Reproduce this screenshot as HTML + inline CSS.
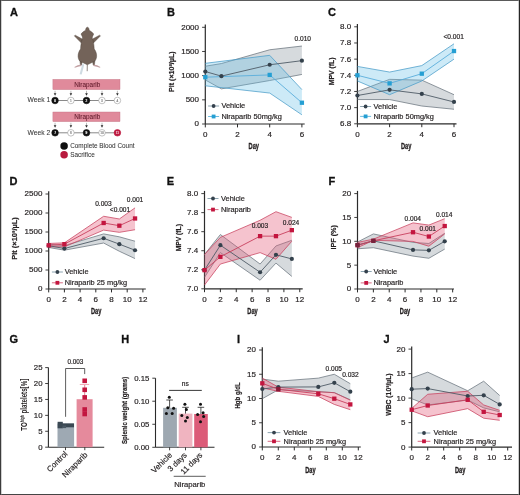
<!DOCTYPE html><html><head><meta charset="utf-8"><style>html,body{margin:0;padding:0;background:#fff;overflow:hidden}svg{display:block;will-change:transform}</style></head><body>
<svg width="520" height="495" viewBox="0 0 520 495" font-family='"Liberation Sans", sans-serif'>
<rect x="0" y="0" width="520" height="495" fill="#fff"/>
<text x="9.9" y="16.3" font-size="11.0" text-anchor="start" font-weight="bold" fill="#111" stroke="#111" stroke-width="0.3" >A</text>
<text x="167.1" y="16.3" font-size="11.0" text-anchor="start" font-weight="bold" fill="#111" stroke="#111" stroke-width="0.3" >B</text>
<text x="327.9" y="16.3" font-size="11.0" text-anchor="start" font-weight="bold" fill="#111" stroke="#111" stroke-width="0.3" >C</text>
<text x="9.5" y="184.5" font-size="11.0" text-anchor="start" font-weight="bold" fill="#111" stroke="#111" stroke-width="0.3" >D</text>
<text x="166.7" y="184.5" font-size="11.0" text-anchor="start" font-weight="bold" fill="#111" stroke="#111" stroke-width="0.3" >E</text>
<text x="328.5" y="184.5" font-size="11.0" text-anchor="start" font-weight="bold" fill="#111" stroke="#111" stroke-width="0.3" >F</text>
<text x="9.5" y="342.8" font-size="11.0" text-anchor="start" font-weight="bold" fill="#111" stroke="#111" stroke-width="0.3" >G</text>
<text x="121.3" y="342.8" font-size="11.0" text-anchor="start" font-weight="bold" fill="#111" stroke="#111" stroke-width="0.3" >H</text>
<text x="237.1" y="342.8" font-size="11.0" text-anchor="start" font-weight="bold" fill="#111" stroke="#111" stroke-width="0.3" >I</text>
<text x="383.5" y="342.8" font-size="11.0" text-anchor="start" font-weight="bold" fill="#111" stroke="#111" stroke-width="0.3" >J</text>
<line x1="205.3" y1="24.6" x2="205.3" y2="124" stroke="#2b2b2b" stroke-width="1.2"/>
<line x1="205.3" y1="124" x2="304.7" y2="124" stroke="#2b2b2b" stroke-width="1.2"/>
<line x1="202.1" y1="124" x2="205.3" y2="124" stroke="#2b2b2b" stroke-width="0.9"/>
<text x="199" y="126.48" font-size="8.0" text-anchor="end" font-weight="normal" fill="#231f20" stroke="#231f20" stroke-width="0.18" >0</text>
<line x1="202.1" y1="99.83" x2="205.3" y2="99.83" stroke="#2b2b2b" stroke-width="0.9"/>
<text x="199" y="102.3" font-size="8.0" text-anchor="end" font-weight="normal" fill="#231f20" stroke="#231f20" stroke-width="0.18" >500</text>
<line x1="202.1" y1="75.65" x2="205.3" y2="75.65" stroke="#2b2b2b" stroke-width="0.9"/>
<text x="199" y="78.13" font-size="8.0" text-anchor="end" font-weight="normal" fill="#231f20" stroke="#231f20" stroke-width="0.18" >1000</text>
<line x1="202.1" y1="51.47" x2="205.3" y2="51.47" stroke="#2b2b2b" stroke-width="0.9"/>
<text x="199" y="53.95" font-size="8.0" text-anchor="end" font-weight="normal" fill="#231f20" stroke="#231f20" stroke-width="0.18" >1500</text>
<line x1="202.1" y1="27.3" x2="205.3" y2="27.3" stroke="#2b2b2b" stroke-width="0.9"/>
<text x="199" y="29.78" font-size="8.0" text-anchor="end" font-weight="normal" fill="#231f20" stroke="#231f20" stroke-width="0.18" >2000</text>
<line x1="205.3" y1="124" x2="205.3" y2="127.4" stroke="#2b2b2b" stroke-width="1.0"/>
<text x="205.3" y="136.7" font-size="8.0" text-anchor="middle" font-weight="normal" fill="#231f20" stroke="#231f20" stroke-width="0.18" >0</text>
<line x1="237.5" y1="124" x2="237.5" y2="127.4" stroke="#2b2b2b" stroke-width="1.0"/>
<text x="237.5" y="136.7" font-size="8.0" text-anchor="middle" font-weight="normal" fill="#231f20" stroke="#231f20" stroke-width="0.18" >2</text>
<line x1="269.7" y1="124" x2="269.7" y2="127.4" stroke="#2b2b2b" stroke-width="1.0"/>
<text x="269.7" y="136.7" font-size="8.0" text-anchor="middle" font-weight="normal" fill="#231f20" stroke="#231f20" stroke-width="0.18" >4</text>
<line x1="301.9" y1="124" x2="301.9" y2="127.4" stroke="#2b2b2b" stroke-width="1.0"/>
<text x="301.9" y="136.7" font-size="8.0" text-anchor="middle" font-weight="normal" fill="#231f20" stroke="#231f20" stroke-width="0.18" >6</text>
<polygon points="205.3,66.22 221.4,63.56 269.7,49.78 301.9,46.06 301.9,74.44 269.7,80.53 221.4,88.85 205.3,79.95" fill="rgba(105,118,130,0.27)" stroke="none" stroke-width="0" stroke-linejoin="round"/>
<polyline points="205.3,66.22 221.4,63.56 269.7,49.78 301.9,46.06" fill="none" stroke="#6a747e" stroke-width="0.75" stroke-linejoin="round"/>
<polyline points="205.3,79.95 221.4,88.85 269.7,80.53 301.9,74.44" fill="none" stroke="#6a747e" stroke-width="0.75" stroke-linejoin="round"/>
<polygon points="205.3,63.32 269.7,55.34 301.9,89.57 301.9,114.81 269.7,93.06 205.3,85.8" fill="rgba(100,190,230,0.32)" stroke="none" stroke-width="0" stroke-linejoin="round"/>
<polyline points="205.3,63.32 269.7,55.34 301.9,89.57" fill="none" stroke="#4a9cc8" stroke-width="0.75" stroke-linejoin="round"/>
<polyline points="205.3,85.8 269.7,93.06 301.9,114.81" fill="none" stroke="#4a9cc8" stroke-width="0.75" stroke-linejoin="round"/>
<polyline points="205.3,71.54 221.4,76.13 269.7,64.77 301.9,60.66" fill="none" stroke="#4f5b66" stroke-width="0.9" stroke-linejoin="round"/>
<polyline points="205.3,77.2 269.7,74.92 301.9,102.73" fill="none" stroke="#5aaedb" stroke-width="0.9" stroke-linejoin="round"/>
<circle cx="205.3" cy="71.54" r="2.1" fill="#34414c"/>
<circle cx="221.4" cy="76.13" r="2.1" fill="#34414c"/>
<circle cx="269.7" cy="64.77" r="2.1" fill="#34414c"/>
<circle cx="301.9" cy="60.66" r="2.1" fill="#34414c"/>
<rect x="203.15" y="75.05" width="4.3" height="4.3" fill="#259fd3"/>
<rect x="267.55" y="72.77" width="4.3" height="4.3" fill="#259fd3"/>
<rect x="299.75" y="100.58" width="4.3" height="4.3" fill="#259fd3"/>
<text x="302.8" y="40.8" font-size="6.6" text-anchor="middle" font-weight="normal" fill="#231f20" stroke="#231f20" stroke-width="0.18" >0.010</text>
<line x1="208.1" y1="106" x2="219.1" y2="106" stroke="#7f9aa8" stroke-width="0.9"/>
<circle cx="213.6" cy="106" r="1.9" fill="#34414c"/>
<text x="221.4" y="108.36" font-size="7.4" text-anchor="start" font-weight="normal" fill="#231f20" stroke="#231f20" stroke-width="0.18" >Vehicle</text>
<line x1="208.1" y1="116.5" x2="219.1" y2="116.5" stroke="#5bb4dd" stroke-width="0.9"/>
<rect x="211.7" y="114.6" width="3.8" height="3.8" fill="#259fd3"/>
<text x="221.4" y="118.86" font-size="7.4" text-anchor="start" font-weight="normal" fill="#231f20" stroke="#231f20" stroke-width="0.18" >Niraparib 50mg/kg</text>
<text transform="translate(172,71.7) rotate(-90) scale(0.917,1)" x="0" y="2.07" font-size="7.8" text-anchor="middle" font-weight="bold" fill="#231f20" stroke="#231f20" stroke-width="0.22">Plt (×10³/µL)</text>
<text transform="translate(253.8,149) scale(0.66,1)" x="0" y="0" font-size="8.6" font-weight="bold" text-anchor="middle" fill="#231f20" stroke="#231f20" stroke-width="0.32">Day</text>
<line x1="357.4" y1="24.1" x2="357.4" y2="123.8" stroke="#2b2b2b" stroke-width="1.2"/>
<line x1="357.4" y1="123.8" x2="456.5" y2="123.8" stroke="#2b2b2b" stroke-width="1.2"/>
<line x1="354.2" y1="123.8" x2="357.4" y2="123.8" stroke="#2b2b2b" stroke-width="0.9"/>
<text x="351.1" y="126.28" font-size="8.0" text-anchor="end" font-weight="normal" fill="#231f20" stroke="#231f20" stroke-width="0.18" >6.8</text>
<line x1="354.2" y1="107.63" x2="357.4" y2="107.63" stroke="#2b2b2b" stroke-width="0.9"/>
<text x="351.1" y="110.11" font-size="8.0" text-anchor="end" font-weight="normal" fill="#231f20" stroke="#231f20" stroke-width="0.18" >7.0</text>
<line x1="354.2" y1="91.47" x2="357.4" y2="91.47" stroke="#2b2b2b" stroke-width="0.9"/>
<text x="351.1" y="93.95" font-size="8.0" text-anchor="end" font-weight="normal" fill="#231f20" stroke="#231f20" stroke-width="0.18" >7.2</text>
<line x1="354.2" y1="75.3" x2="357.4" y2="75.3" stroke="#2b2b2b" stroke-width="0.9"/>
<text x="351.1" y="77.78" font-size="8.0" text-anchor="end" font-weight="normal" fill="#231f20" stroke="#231f20" stroke-width="0.18" >7.4</text>
<line x1="354.2" y1="59.13" x2="357.4" y2="59.13" stroke="#2b2b2b" stroke-width="0.9"/>
<text x="351.1" y="61.61" font-size="8.0" text-anchor="end" font-weight="normal" fill="#231f20" stroke="#231f20" stroke-width="0.18" >7.6</text>
<line x1="354.2" y1="42.97" x2="357.4" y2="42.97" stroke="#2b2b2b" stroke-width="0.9"/>
<text x="351.1" y="45.45" font-size="8.0" text-anchor="end" font-weight="normal" fill="#231f20" stroke="#231f20" stroke-width="0.18" >7.8</text>
<line x1="354.2" y1="26.8" x2="357.4" y2="26.8" stroke="#2b2b2b" stroke-width="0.9"/>
<text x="351.1" y="29.28" font-size="8.0" text-anchor="end" font-weight="normal" fill="#231f20" stroke="#231f20" stroke-width="0.18" >8.0</text>
<line x1="357.4" y1="123.8" x2="357.4" y2="127.2" stroke="#2b2b2b" stroke-width="1.0"/>
<text x="357.4" y="136.5" font-size="8.0" text-anchor="middle" font-weight="normal" fill="#231f20" stroke="#231f20" stroke-width="0.18" >0</text>
<line x1="389.6" y1="123.8" x2="389.6" y2="127.2" stroke="#2b2b2b" stroke-width="1.0"/>
<text x="389.6" y="136.5" font-size="8.0" text-anchor="middle" font-weight="normal" fill="#231f20" stroke="#231f20" stroke-width="0.18" >2</text>
<line x1="421.8" y1="123.8" x2="421.8" y2="127.2" stroke="#2b2b2b" stroke-width="1.0"/>
<text x="421.8" y="136.5" font-size="8.0" text-anchor="middle" font-weight="normal" fill="#231f20" stroke="#231f20" stroke-width="0.18" >4</text>
<line x1="454" y1="123.8" x2="454" y2="127.2" stroke="#2b2b2b" stroke-width="1.0"/>
<text x="454" y="136.5" font-size="8.0" text-anchor="middle" font-weight="normal" fill="#231f20" stroke="#231f20" stroke-width="0.18" >6</text>
<polygon points="357.4,91.47 389.6,79.34 421.8,80.15 454,94.7 454,109.25 421.8,106.02 389.6,99.55 357.4,99.55" fill="rgba(105,118,130,0.27)" stroke="none" stroke-width="0" stroke-linejoin="round"/>
<polyline points="357.4,91.47 389.6,79.34 421.8,80.15 454,94.7" fill="none" stroke="#6a747e" stroke-width="0.75" stroke-linejoin="round"/>
<polyline points="357.4,99.55 389.6,99.55 421.8,106.02 454,109.25" fill="none" stroke="#6a747e" stroke-width="0.75" stroke-linejoin="round"/>
<polygon points="357.4,66.41 389.6,72.07 421.8,65.6 454,43.77 454,59.13 421.8,80.96 389.6,94.7 357.4,80.96" fill="rgba(100,190,230,0.32)" stroke="none" stroke-width="0" stroke-linejoin="round"/>
<polyline points="357.4,66.41 389.6,72.07 421.8,65.6 454,43.77" fill="none" stroke="#4a9cc8" stroke-width="0.75" stroke-linejoin="round"/>
<polyline points="357.4,80.96 389.6,94.7 421.8,80.96 454,59.13" fill="none" stroke="#4a9cc8" stroke-width="0.75" stroke-linejoin="round"/>
<polyline points="357.4,95.51 389.6,89.85 421.8,93.89 454,101.97" fill="none" stroke="#4f5b66" stroke-width="0.9" stroke-linejoin="round"/>
<polyline points="357.4,75.3 389.6,83.38 421.8,73.68 454,51.05" fill="none" stroke="#5aaedb" stroke-width="0.9" stroke-linejoin="round"/>
<circle cx="357.4" cy="95.51" r="2.1" fill="#34414c"/>
<circle cx="389.6" cy="89.85" r="2.1" fill="#34414c"/>
<circle cx="421.8" cy="93.89" r="2.1" fill="#34414c"/>
<circle cx="454" cy="101.97" r="2.1" fill="#34414c"/>
<rect x="355.25" y="73.15" width="4.3" height="4.3" fill="#259fd3"/>
<rect x="387.45" y="81.23" width="4.3" height="4.3" fill="#259fd3"/>
<rect x="419.65" y="71.53" width="4.3" height="4.3" fill="#259fd3"/>
<rect x="451.85" y="48.9" width="4.3" height="4.3" fill="#259fd3"/>
<text x="453.7" y="38.8" font-size="6.6" text-anchor="middle" font-weight="normal" fill="#231f20" stroke="#231f20" stroke-width="0.18" >&lt;0.001</text>
<line x1="360.1" y1="106.5" x2="371.1" y2="106.5" stroke="#7f9aa8" stroke-width="0.9"/>
<circle cx="365.6" cy="106.5" r="1.9" fill="#34414c"/>
<text x="373.5" y="108.86" font-size="7.4" text-anchor="start" font-weight="normal" fill="#231f20" stroke="#231f20" stroke-width="0.18" >Vehicle</text>
<line x1="360.1" y1="116.4" x2="371.1" y2="116.4" stroke="#5bb4dd" stroke-width="0.9"/>
<rect x="363.7" y="114.5" width="3.8" height="3.8" fill="#259fd3"/>
<text x="373.5" y="118.76" font-size="7.4" text-anchor="start" font-weight="normal" fill="#231f20" stroke="#231f20" stroke-width="0.18" >Niraparib 50mg/kg</text>
<text transform="translate(331.9,71.35) rotate(-90) scale(0.884,1)" x="0" y="2.07" font-size="7.8" text-anchor="middle" font-weight="bold" fill="#231f20" stroke="#231f20" stroke-width="0.22">MPV (fL)</text>
<text transform="translate(406.1,149) scale(0.66,1)" x="0" y="0" font-size="8.6" font-weight="bold" text-anchor="middle" fill="#231f20" stroke="#231f20" stroke-width="0.32">Day</text>
<line x1="48.7" y1="191.3" x2="48.7" y2="289" stroke="#2b2b2b" stroke-width="1.2"/>
<line x1="48.7" y1="289" x2="145.8" y2="289" stroke="#2b2b2b" stroke-width="1.2"/>
<line x1="45.5" y1="289" x2="48.7" y2="289" stroke="#2b2b2b" stroke-width="0.9"/>
<text x="42.4" y="291.48" font-size="8.0" text-anchor="end" font-weight="normal" fill="#231f20" stroke="#231f20" stroke-width="0.18" >0</text>
<line x1="45.5" y1="270" x2="48.7" y2="270" stroke="#2b2b2b" stroke-width="0.9"/>
<text x="42.4" y="272.48" font-size="8.0" text-anchor="end" font-weight="normal" fill="#231f20" stroke="#231f20" stroke-width="0.18" >500</text>
<line x1="45.5" y1="251" x2="48.7" y2="251" stroke="#2b2b2b" stroke-width="0.9"/>
<text x="42.4" y="253.48" font-size="8.0" text-anchor="end" font-weight="normal" fill="#231f20" stroke="#231f20" stroke-width="0.18" >1000</text>
<line x1="45.5" y1="232" x2="48.7" y2="232" stroke="#2b2b2b" stroke-width="0.9"/>
<text x="42.4" y="234.48" font-size="8.0" text-anchor="end" font-weight="normal" fill="#231f20" stroke="#231f20" stroke-width="0.18" >1500</text>
<line x1="45.5" y1="213" x2="48.7" y2="213" stroke="#2b2b2b" stroke-width="0.9"/>
<text x="42.4" y="215.48" font-size="8.0" text-anchor="end" font-weight="normal" fill="#231f20" stroke="#231f20" stroke-width="0.18" >2000</text>
<line x1="45.5" y1="194" x2="48.7" y2="194" stroke="#2b2b2b" stroke-width="0.9"/>
<text x="42.4" y="196.48" font-size="8.0" text-anchor="end" font-weight="normal" fill="#231f20" stroke="#231f20" stroke-width="0.18" >2500</text>
<line x1="48.7" y1="289" x2="48.7" y2="292.4" stroke="#2b2b2b" stroke-width="1.0"/>
<text x="48.7" y="301.7" font-size="8.0" text-anchor="middle" font-weight="normal" fill="#231f20" stroke="#231f20" stroke-width="0.18" >0</text>
<line x1="64.4" y1="289" x2="64.4" y2="292.4" stroke="#2b2b2b" stroke-width="1.0"/>
<text x="64.4" y="301.7" font-size="8.0" text-anchor="middle" font-weight="normal" fill="#231f20" stroke="#231f20" stroke-width="0.18" >2</text>
<line x1="80.1" y1="289" x2="80.1" y2="292.4" stroke="#2b2b2b" stroke-width="1.0"/>
<text x="80.1" y="301.7" font-size="8.0" text-anchor="middle" font-weight="normal" fill="#231f20" stroke="#231f20" stroke-width="0.18" >4</text>
<line x1="95.8" y1="289" x2="95.8" y2="292.4" stroke="#2b2b2b" stroke-width="1.0"/>
<text x="95.8" y="301.7" font-size="8.0" text-anchor="middle" font-weight="normal" fill="#231f20" stroke="#231f20" stroke-width="0.18" >6</text>
<line x1="111.5" y1="289" x2="111.5" y2="292.4" stroke="#2b2b2b" stroke-width="1.0"/>
<text x="111.5" y="301.7" font-size="8.0" text-anchor="middle" font-weight="normal" fill="#231f20" stroke="#231f20" stroke-width="0.18" >8</text>
<line x1="127.2" y1="289" x2="127.2" y2="292.4" stroke="#2b2b2b" stroke-width="1.0"/>
<text x="127.2" y="301.7" font-size="8.0" text-anchor="middle" font-weight="normal" fill="#231f20" stroke="#231f20" stroke-width="0.18" >10</text>
<line x1="142.9" y1="289" x2="142.9" y2="292.4" stroke="#2b2b2b" stroke-width="1.0"/>
<text x="142.9" y="301.7" font-size="8.0" text-anchor="middle" font-weight="normal" fill="#231f20" stroke="#231f20" stroke-width="0.18" >12</text>
<polygon points="48.7,244.16 64.4,245.68 103.65,233.9 119.35,236.83 135.05,241.23 135.05,258.6 119.35,251.27 103.65,243.02 64.4,250.16 48.7,247.47" fill="rgba(105,118,130,0.27)" stroke="none" stroke-width="0" stroke-linejoin="round"/>
<polyline points="48.7,244.16 64.4,245.68 103.65,233.9 119.35,236.83 135.05,241.23" fill="none" stroke="#6a747e" stroke-width="0.75" stroke-linejoin="round"/>
<polyline points="48.7,247.47 64.4,250.16 103.65,243.02 119.35,251.27 135.05,258.6" fill="none" stroke="#6a747e" stroke-width="0.75" stroke-linejoin="round"/>
<polygon points="48.7,243.48 64.4,242.83 103.65,216.27 119.35,218.97 135.05,207.83 135.05,229.72 119.35,232.34 103.65,230.1 64.4,246.86 48.7,246.86" fill="rgba(228,90,120,0.36)" stroke="none" stroke-width="0" stroke-linejoin="round"/>
<polyline points="48.7,243.48 64.4,242.83 103.65,216.27 119.35,218.97 135.05,207.83" fill="none" stroke="#c8405e" stroke-width="0.75" stroke-linejoin="round"/>
<polyline points="48.7,246.86 64.4,246.86 103.65,230.1 119.35,232.34 135.05,229.72" fill="none" stroke="#c8405e" stroke-width="0.75" stroke-linejoin="round"/>
<polyline points="48.7,245.68 64.4,248.53 103.65,238.27 119.35,244.16 135.05,250.24" fill="none" stroke="#4f5b66" stroke-width="0.9" stroke-linejoin="round"/>
<polyline points="48.7,245.3 64.4,244.16 103.65,222.99 119.35,225.69 135.05,218.47" fill="none" stroke="#c8405e" stroke-width="0.9" stroke-linejoin="round"/>
<circle cx="48.7" cy="245.68" r="2.1" fill="#34414c"/>
<circle cx="64.4" cy="248.53" r="2.1" fill="#34414c"/>
<circle cx="103.65" cy="238.27" r="2.1" fill="#34414c"/>
<circle cx="119.35" cy="244.16" r="2.1" fill="#34414c"/>
<circle cx="135.05" cy="250.24" r="2.1" fill="#34414c"/>
<rect x="46.55" y="243.15" width="4.3" height="4.3" fill="#c3163f"/>
<rect x="62.25" y="242.01" width="4.3" height="4.3" fill="#c3163f"/>
<rect x="101.5" y="220.84" width="4.3" height="4.3" fill="#c3163f"/>
<rect x="117.2" y="223.54" width="4.3" height="4.3" fill="#c3163f"/>
<rect x="132.9" y="216.32" width="4.3" height="4.3" fill="#c3163f"/>
<text x="103.4" y="205.6" font-size="6.6" text-anchor="middle" font-weight="normal" fill="#231f20" stroke="#231f20" stroke-width="0.18" >0.003</text>
<text x="120" y="211.9" font-size="6.6" text-anchor="middle" font-weight="normal" fill="#231f20" stroke="#231f20" stroke-width="0.18" >&lt;0.001</text>
<text x="135" y="201.6" font-size="6.6" text-anchor="middle" font-weight="normal" fill="#231f20" stroke="#231f20" stroke-width="0.18" >0.001</text>
<line x1="51.9" y1="272" x2="62.9" y2="272" stroke="#7f9aa8" stroke-width="0.9"/>
<circle cx="57.4" cy="272" r="1.9" fill="#34414c"/>
<text x="64.7" y="274.36" font-size="7.4" text-anchor="start" font-weight="normal" fill="#231f20" stroke="#231f20" stroke-width="0.18" >Vehicle</text>
<line x1="51.9" y1="282.8" x2="62.9" y2="282.8" stroke="#d45a74" stroke-width="0.9"/>
<rect x="55.5" y="280.9" width="3.8" height="3.8" fill="#c3163f"/>
<text x="64.7" y="285.16" font-size="7.4" text-anchor="start" font-weight="normal" fill="#231f20" stroke="#231f20" stroke-width="0.18" >Niraparib 25 mg/kg</text>
<text transform="translate(15.25,238.45) rotate(-90) scale(0.956,1)" x="0" y="2.07" font-size="7.8" text-anchor="middle" font-weight="bold" fill="#231f20" stroke="#231f20" stroke-width="0.22">Plt (×10³/µL)</text>
<text transform="translate(96.1,314) scale(0.66,1)" x="0" y="0" font-size="8.6" font-weight="bold" text-anchor="middle" fill="#231f20" stroke="#231f20" stroke-width="0.32">Day</text>
<line x1="204.5" y1="190.9" x2="204.5" y2="288.8" stroke="#2b2b2b" stroke-width="1.2"/>
<line x1="204.5" y1="288.8" x2="302.7" y2="288.8" stroke="#2b2b2b" stroke-width="1.2"/>
<line x1="201.3" y1="288.8" x2="204.5" y2="288.8" stroke="#2b2b2b" stroke-width="0.9"/>
<text x="198.2" y="291.28" font-size="8.0" text-anchor="end" font-weight="normal" fill="#231f20" stroke="#231f20" stroke-width="0.18" >7.0</text>
<line x1="201.3" y1="269.76" x2="204.5" y2="269.76" stroke="#2b2b2b" stroke-width="0.9"/>
<text x="198.2" y="272.24" font-size="8.0" text-anchor="end" font-weight="normal" fill="#231f20" stroke="#231f20" stroke-width="0.18" >7.2</text>
<line x1="201.3" y1="250.72" x2="204.5" y2="250.72" stroke="#2b2b2b" stroke-width="0.9"/>
<text x="198.2" y="253.2" font-size="8.0" text-anchor="end" font-weight="normal" fill="#231f20" stroke="#231f20" stroke-width="0.18" >7.4</text>
<line x1="201.3" y1="231.68" x2="204.5" y2="231.68" stroke="#2b2b2b" stroke-width="0.9"/>
<text x="198.2" y="234.16" font-size="8.0" text-anchor="end" font-weight="normal" fill="#231f20" stroke="#231f20" stroke-width="0.18" >7.6</text>
<line x1="201.3" y1="212.64" x2="204.5" y2="212.64" stroke="#2b2b2b" stroke-width="0.9"/>
<text x="198.2" y="215.12" font-size="8.0" text-anchor="end" font-weight="normal" fill="#231f20" stroke="#231f20" stroke-width="0.18" >7.8</text>
<line x1="201.3" y1="193.6" x2="204.5" y2="193.6" stroke="#2b2b2b" stroke-width="0.9"/>
<text x="198.2" y="196.08" font-size="8.0" text-anchor="end" font-weight="normal" fill="#231f20" stroke="#231f20" stroke-width="0.18" >8.0</text>
<line x1="204.5" y1="288.8" x2="204.5" y2="292.2" stroke="#2b2b2b" stroke-width="1.0"/>
<text x="204.5" y="301.5" font-size="8.0" text-anchor="middle" font-weight="normal" fill="#231f20" stroke="#231f20" stroke-width="0.18" >0</text>
<line x1="220.38" y1="288.8" x2="220.38" y2="292.2" stroke="#2b2b2b" stroke-width="1.0"/>
<text x="220.38" y="301.5" font-size="8.0" text-anchor="middle" font-weight="normal" fill="#231f20" stroke="#231f20" stroke-width="0.18" >2</text>
<line x1="236.26" y1="288.8" x2="236.26" y2="292.2" stroke="#2b2b2b" stroke-width="1.0"/>
<text x="236.26" y="301.5" font-size="8.0" text-anchor="middle" font-weight="normal" fill="#231f20" stroke="#231f20" stroke-width="0.18" >4</text>
<line x1="252.14" y1="288.8" x2="252.14" y2="292.2" stroke="#2b2b2b" stroke-width="1.0"/>
<text x="252.14" y="301.5" font-size="8.0" text-anchor="middle" font-weight="normal" fill="#231f20" stroke="#231f20" stroke-width="0.18" >6</text>
<line x1="268.02" y1="288.8" x2="268.02" y2="292.2" stroke="#2b2b2b" stroke-width="1.0"/>
<text x="268.02" y="301.5" font-size="8.0" text-anchor="middle" font-weight="normal" fill="#231f20" stroke="#231f20" stroke-width="0.18" >8</text>
<line x1="283.9" y1="288.8" x2="283.9" y2="292.2" stroke="#2b2b2b" stroke-width="1.0"/>
<text x="283.9" y="301.5" font-size="8.0" text-anchor="middle" font-weight="normal" fill="#231f20" stroke="#231f20" stroke-width="0.18" >10</text>
<line x1="299.78" y1="288.8" x2="299.78" y2="292.2" stroke="#2b2b2b" stroke-width="1.0"/>
<text x="299.78" y="301.5" font-size="8.0" text-anchor="middle" font-weight="normal" fill="#231f20" stroke="#231f20" stroke-width="0.18" >12</text>
<polygon points="204.5,254.53 220.38,234.54 260.08,264.05 275.96,245.96 291.84,240.25 291.84,276.42 275.96,263.1 260.08,280.23 220.38,252.62 204.5,277.38" fill="rgba(105,118,130,0.27)" stroke="none" stroke-width="0" stroke-linejoin="round"/>
<polyline points="204.5,254.53 220.38,234.54 260.08,264.05 275.96,245.96 291.84,240.25" fill="none" stroke="#6a747e" stroke-width="0.75" stroke-linejoin="round"/>
<polyline points="204.5,277.38 220.38,252.62 260.08,280.23 275.96,263.1 291.84,276.42" fill="none" stroke="#6a747e" stroke-width="0.75" stroke-linejoin="round"/>
<polygon points="204.5,254.53 220.38,237.39 260.08,220.26 275.96,211.69 291.84,217.4 291.84,241.2 275.96,259.29 260.08,252.62 220.38,264.05 204.5,284.99" fill="rgba(228,90,120,0.36)" stroke="none" stroke-width="0" stroke-linejoin="round"/>
<polyline points="204.5,254.53 220.38,237.39 260.08,220.26 275.96,211.69 291.84,217.4" fill="none" stroke="#c8405e" stroke-width="0.75" stroke-linejoin="round"/>
<polyline points="204.5,284.99 220.38,264.05 260.08,252.62 275.96,259.29 291.84,241.2" fill="none" stroke="#c8405e" stroke-width="0.75" stroke-linejoin="round"/>
<polyline points="204.5,270.14 220.38,245.2 260.08,272.24 275.96,254.81 291.84,258.91" fill="none" stroke="#4f5b66" stroke-width="0.9" stroke-linejoin="round"/>
<polyline points="204.5,270.14 220.38,256.81 260.08,236.15 275.96,236.15 291.84,230.16" fill="none" stroke="#c8405e" stroke-width="0.9" stroke-linejoin="round"/>
<circle cx="204.5" cy="270.14" r="2.1" fill="#34414c"/>
<circle cx="220.38" cy="245.2" r="2.1" fill="#34414c"/>
<circle cx="260.08" cy="272.24" r="2.1" fill="#34414c"/>
<circle cx="275.96" cy="254.81" r="2.1" fill="#34414c"/>
<circle cx="291.84" cy="258.91" r="2.1" fill="#34414c"/>
<rect x="202.35" y="267.99" width="4.3" height="4.3" fill="#c3163f"/>
<rect x="218.23" y="254.66" width="4.3" height="4.3" fill="#c3163f"/>
<rect x="257.93" y="234" width="4.3" height="4.3" fill="#c3163f"/>
<rect x="273.81" y="234" width="4.3" height="4.3" fill="#c3163f"/>
<rect x="289.69" y="228.01" width="4.3" height="4.3" fill="#c3163f"/>
<text x="259.9" y="228.2" font-size="6.6" text-anchor="middle" font-weight="normal" fill="#231f20" stroke="#231f20" stroke-width="0.18" >0.003</text>
<text x="291" y="224.6" font-size="6.6" text-anchor="middle" font-weight="normal" fill="#231f20" stroke="#231f20" stroke-width="0.18" >0.024</text>
<line x1="207.5" y1="198.5" x2="218.5" y2="198.5" stroke="#7f9aa8" stroke-width="0.9"/>
<circle cx="213" cy="198.5" r="1.9" fill="#34414c"/>
<text x="221" y="200.86" font-size="7.4" text-anchor="start" font-weight="normal" fill="#231f20" stroke="#231f20" stroke-width="0.18" >Vehicle</text>
<line x1="207.5" y1="209.6" x2="218.5" y2="209.6" stroke="#d45a74" stroke-width="0.9"/>
<rect x="211.1" y="207.7" width="3.8" height="3.8" fill="#c3163f"/>
<text x="221" y="211.96" font-size="7.4" text-anchor="start" font-weight="normal" fill="#231f20" stroke="#231f20" stroke-width="0.18" >Niraparib</text>
<text transform="translate(179.1,237.75) rotate(-90) scale(0.864,1)" x="0" y="2.07" font-size="7.8" text-anchor="middle" font-weight="bold" fill="#231f20" stroke="#231f20" stroke-width="0.22">MPV (fL)</text>
<text transform="translate(252.5,314) scale(0.66,1)" x="0" y="0" font-size="8.6" font-weight="bold" text-anchor="middle" fill="#231f20" stroke="#231f20" stroke-width="0.32">Day</text>
<line x1="357.5" y1="190.9" x2="357.5" y2="289" stroke="#2b2b2b" stroke-width="1.2"/>
<line x1="357.5" y1="289" x2="454" y2="289" stroke="#2b2b2b" stroke-width="1.2"/>
<line x1="354.3" y1="289" x2="357.5" y2="289" stroke="#2b2b2b" stroke-width="0.9"/>
<text x="351.2" y="291.48" font-size="8.0" text-anchor="end" font-weight="normal" fill="#231f20" stroke="#231f20" stroke-width="0.18" >0</text>
<line x1="354.3" y1="265.15" x2="357.5" y2="265.15" stroke="#2b2b2b" stroke-width="0.9"/>
<text x="351.2" y="267.63" font-size="8.0" text-anchor="end" font-weight="normal" fill="#231f20" stroke="#231f20" stroke-width="0.18" >5</text>
<line x1="354.3" y1="241.3" x2="357.5" y2="241.3" stroke="#2b2b2b" stroke-width="0.9"/>
<text x="351.2" y="243.78" font-size="8.0" text-anchor="end" font-weight="normal" fill="#231f20" stroke="#231f20" stroke-width="0.18" >10</text>
<line x1="354.3" y1="217.45" x2="357.5" y2="217.45" stroke="#2b2b2b" stroke-width="0.9"/>
<text x="351.2" y="219.93" font-size="8.0" text-anchor="end" font-weight="normal" fill="#231f20" stroke="#231f20" stroke-width="0.18" >15</text>
<line x1="354.3" y1="193.6" x2="357.5" y2="193.6" stroke="#2b2b2b" stroke-width="0.9"/>
<text x="351.2" y="196.08" font-size="8.0" text-anchor="end" font-weight="normal" fill="#231f20" stroke="#231f20" stroke-width="0.18" >20</text>
<line x1="357.5" y1="289" x2="357.5" y2="292.4" stroke="#2b2b2b" stroke-width="1.0"/>
<text x="357.5" y="301.7" font-size="8.0" text-anchor="middle" font-weight="normal" fill="#231f20" stroke="#231f20" stroke-width="0.18" >0</text>
<line x1="373.36" y1="289" x2="373.36" y2="292.4" stroke="#2b2b2b" stroke-width="1.0"/>
<text x="373.36" y="301.7" font-size="8.0" text-anchor="middle" font-weight="normal" fill="#231f20" stroke="#231f20" stroke-width="0.18" >2</text>
<line x1="389.22" y1="289" x2="389.22" y2="292.4" stroke="#2b2b2b" stroke-width="1.0"/>
<text x="389.22" y="301.7" font-size="8.0" text-anchor="middle" font-weight="normal" fill="#231f20" stroke="#231f20" stroke-width="0.18" >4</text>
<line x1="405.08" y1="289" x2="405.08" y2="292.4" stroke="#2b2b2b" stroke-width="1.0"/>
<text x="405.08" y="301.7" font-size="8.0" text-anchor="middle" font-weight="normal" fill="#231f20" stroke="#231f20" stroke-width="0.18" >6</text>
<line x1="420.94" y1="289" x2="420.94" y2="292.4" stroke="#2b2b2b" stroke-width="1.0"/>
<text x="420.94" y="301.7" font-size="8.0" text-anchor="middle" font-weight="normal" fill="#231f20" stroke="#231f20" stroke-width="0.18" >8</text>
<line x1="436.8" y1="289" x2="436.8" y2="292.4" stroke="#2b2b2b" stroke-width="1.0"/>
<text x="436.8" y="301.7" font-size="8.0" text-anchor="middle" font-weight="normal" fill="#231f20" stroke="#231f20" stroke-width="0.18" >10</text>
<line x1="452.66" y1="289" x2="452.66" y2="292.4" stroke="#2b2b2b" stroke-width="1.0"/>
<text x="452.66" y="301.7" font-size="8.0" text-anchor="middle" font-weight="normal" fill="#231f20" stroke="#231f20" stroke-width="0.18" >12</text>
<polygon points="357.5,242.02 373.36,233.91 413.01,242.4 428.87,243.49 444.73,233.29 444.73,249.08 428.87,258.28 413.01,256.09 373.36,247.69 357.5,248.79" fill="rgba(105,118,130,0.27)" stroke="none" stroke-width="0" stroke-linejoin="round"/>
<polyline points="357.5,242.02 373.36,233.91 413.01,242.4 428.87,243.49 444.73,233.29" fill="none" stroke="#6a747e" stroke-width="0.75" stroke-linejoin="round"/>
<polyline points="357.5,248.79 373.36,247.69 413.01,256.09 428.87,258.28 444.73,249.08" fill="none" stroke="#6a747e" stroke-width="0.75" stroke-linejoin="round"/>
<polygon points="357.5,242.4 373.36,239.15 413.01,222.89 428.87,225.08 444.73,218.69 444.73,233.91 428.87,246.21 413.01,241.4 373.36,240.35 357.5,247.69" fill="rgba(228,90,120,0.36)" stroke="none" stroke-width="0" stroke-linejoin="round"/>
<polyline points="357.5,242.4 373.36,239.15 413.01,222.89 428.87,225.08 444.73,218.69" fill="none" stroke="#c8405e" stroke-width="0.75" stroke-linejoin="round"/>
<polyline points="357.5,247.69 373.36,240.35 413.01,241.4 428.87,246.21 444.73,233.91" fill="none" stroke="#c8405e" stroke-width="0.75" stroke-linejoin="round"/>
<polyline points="357.5,245.12 373.36,240.82 413.01,249.89 428.87,250.36 444.73,241.3" fill="none" stroke="#4f5b66" stroke-width="0.9" stroke-linejoin="round"/>
<polyline points="357.5,245.12 373.36,240.82 413.01,232.24 428.87,236.53 444.73,226.04" fill="none" stroke="#c8405e" stroke-width="0.9" stroke-linejoin="round"/>
<circle cx="357.5" cy="245.12" r="2.1" fill="#34414c"/>
<circle cx="373.36" cy="240.82" r="2.1" fill="#34414c"/>
<circle cx="413.01" cy="249.89" r="2.1" fill="#34414c"/>
<circle cx="428.87" cy="250.36" r="2.1" fill="#34414c"/>
<circle cx="444.73" cy="241.3" r="2.1" fill="#34414c"/>
<rect x="355.35" y="242.97" width="4.3" height="4.3" fill="#c3163f"/>
<rect x="371.21" y="238.67" width="4.3" height="4.3" fill="#c3163f"/>
<rect x="410.86" y="230.09" width="4.3" height="4.3" fill="#c3163f"/>
<rect x="426.72" y="234.38" width="4.3" height="4.3" fill="#c3163f"/>
<rect x="442.58" y="223.89" width="4.3" height="4.3" fill="#c3163f"/>
<rect x="355.35" y="242.97" width="4.3" height="4.3" fill="rgba(70,45,60,0.6)"/>
<rect x="371.21" y="238.67" width="4.3" height="4.3" fill="rgba(70,45,60,0.6)"/>
<text x="412.8" y="221" font-size="6.6" text-anchor="middle" font-weight="normal" fill="#231f20" stroke="#231f20" stroke-width="0.18" >0.004</text>
<text x="427.8" y="231" font-size="6.6" text-anchor="middle" font-weight="normal" fill="#231f20" stroke="#231f20" stroke-width="0.18" >0.001</text>
<text x="444.2" y="216.8" font-size="6.6" text-anchor="middle" font-weight="normal" fill="#231f20" stroke="#231f20" stroke-width="0.18" >0.014</text>
<line x1="360.7" y1="271.5" x2="371.7" y2="271.5" stroke="#7f9aa8" stroke-width="0.9"/>
<circle cx="366.2" cy="271.5" r="1.9" fill="#34414c"/>
<text x="373.4" y="273.86" font-size="7.4" text-anchor="start" font-weight="normal" fill="#231f20" stroke="#231f20" stroke-width="0.18" >Vehicle</text>
<line x1="360.7" y1="282.9" x2="371.7" y2="282.9" stroke="#d45a74" stroke-width="0.9"/>
<rect x="364.3" y="281" width="3.8" height="3.8" fill="#c3163f"/>
<text x="373.4" y="285.26" font-size="7.4" text-anchor="start" font-weight="normal" fill="#231f20" stroke="#231f20" stroke-width="0.18" >Niraparib</text>
<text transform="translate(333.65,237.3) rotate(-90) scale(0.928,1)" x="0" y="2.07" font-size="7.8" text-anchor="middle" font-weight="bold" fill="#231f20" stroke="#231f20" stroke-width="0.22">IPF (%)</text>
<text transform="translate(405,314) scale(0.66,1)" x="0" y="0" font-size="8.6" font-weight="bold" text-anchor="middle" fill="#231f20" stroke="#231f20" stroke-width="0.32">Day</text>
<line x1="262.3" y1="347.3" x2="262.3" y2="447" stroke="#2b2b2b" stroke-width="1.2"/>
<line x1="262.3" y1="447" x2="360.8" y2="447" stroke="#2b2b2b" stroke-width="1.2"/>
<line x1="259.1" y1="447" x2="262.3" y2="447" stroke="#2b2b2b" stroke-width="0.9"/>
<text x="256" y="449.48" font-size="8.0" text-anchor="end" font-weight="normal" fill="#231f20" stroke="#231f20" stroke-width="0.18" >0</text>
<line x1="259.1" y1="422.75" x2="262.3" y2="422.75" stroke="#2b2b2b" stroke-width="0.9"/>
<text x="256" y="425.23" font-size="8.0" text-anchor="end" font-weight="normal" fill="#231f20" stroke="#231f20" stroke-width="0.18" >5</text>
<line x1="259.1" y1="398.5" x2="262.3" y2="398.5" stroke="#2b2b2b" stroke-width="0.9"/>
<text x="256" y="400.98" font-size="8.0" text-anchor="end" font-weight="normal" fill="#231f20" stroke="#231f20" stroke-width="0.18" >10</text>
<line x1="259.1" y1="374.25" x2="262.3" y2="374.25" stroke="#2b2b2b" stroke-width="0.9"/>
<text x="256" y="376.73" font-size="8.0" text-anchor="end" font-weight="normal" fill="#231f20" stroke="#231f20" stroke-width="0.18" >15</text>
<line x1="259.1" y1="350" x2="262.3" y2="350" stroke="#2b2b2b" stroke-width="0.9"/>
<text x="256" y="352.48" font-size="8.0" text-anchor="end" font-weight="normal" fill="#231f20" stroke="#231f20" stroke-width="0.18" >20</text>
<line x1="262.3" y1="447" x2="262.3" y2="450.4" stroke="#2b2b2b" stroke-width="1.0"/>
<text x="262.3" y="459.7" font-size="8.0" text-anchor="middle" font-weight="normal" fill="#231f20" stroke="#231f20" stroke-width="0.18" >0</text>
<line x1="278.3" y1="447" x2="278.3" y2="450.4" stroke="#2b2b2b" stroke-width="1.0"/>
<text x="278.3" y="459.7" font-size="8.0" text-anchor="middle" font-weight="normal" fill="#231f20" stroke="#231f20" stroke-width="0.18" >2</text>
<line x1="294.3" y1="447" x2="294.3" y2="450.4" stroke="#2b2b2b" stroke-width="1.0"/>
<text x="294.3" y="459.7" font-size="8.0" text-anchor="middle" font-weight="normal" fill="#231f20" stroke="#231f20" stroke-width="0.18" >4</text>
<line x1="310.3" y1="447" x2="310.3" y2="450.4" stroke="#2b2b2b" stroke-width="1.0"/>
<text x="310.3" y="459.7" font-size="8.0" text-anchor="middle" font-weight="normal" fill="#231f20" stroke="#231f20" stroke-width="0.18" >6</text>
<line x1="326.3" y1="447" x2="326.3" y2="450.4" stroke="#2b2b2b" stroke-width="1.0"/>
<text x="326.3" y="459.7" font-size="8.0" text-anchor="middle" font-weight="normal" fill="#231f20" stroke="#231f20" stroke-width="0.18" >8</text>
<line x1="342.3" y1="447" x2="342.3" y2="450.4" stroke="#2b2b2b" stroke-width="1.0"/>
<text x="342.3" y="459.7" font-size="8.0" text-anchor="middle" font-weight="normal" fill="#231f20" stroke="#231f20" stroke-width="0.18" >10</text>
<line x1="358.3" y1="447" x2="358.3" y2="450.4" stroke="#2b2b2b" stroke-width="1.0"/>
<text x="358.3" y="459.7" font-size="8.0" text-anchor="middle" font-weight="normal" fill="#231f20" stroke="#231f20" stroke-width="0.18" >12</text>
<polygon points="262.3,379.1 278.3,381.19 318.3,378.13 334.3,374.25 350.3,383.71 350.3,399.81 334.3,392.68 318.3,391.71 278.3,389.77 262.3,398.69" fill="rgba(105,118,130,0.27)" stroke="none" stroke-width="0" stroke-linejoin="round"/>
<polyline points="262.3,379.1 278.3,381.19 318.3,378.13 334.3,374.25 350.3,383.71" fill="none" stroke="#6a747e" stroke-width="0.75" stroke-linejoin="round"/>
<polyline points="262.3,398.69 278.3,389.77 318.3,391.71 334.3,392.68 350.3,399.81" fill="none" stroke="#6a747e" stroke-width="0.75" stroke-linejoin="round"/>
<polygon points="262.3,378.13 278.3,387.1 318.3,391.71 334.3,392.68 350.3,400.2 350.3,409.7 334.3,404.42 318.3,396.41 278.3,391.32 262.3,387.88" fill="rgba(228,90,120,0.36)" stroke="none" stroke-width="0" stroke-linejoin="round"/>
<polyline points="262.3,378.13 278.3,387.1 318.3,391.71 334.3,392.68 350.3,400.2" fill="none" stroke="#c8405e" stroke-width="0.75" stroke-linejoin="round"/>
<polyline points="262.3,387.88 278.3,391.32 318.3,396.41 334.3,404.42 350.3,409.7" fill="none" stroke="#c8405e" stroke-width="0.75" stroke-linejoin="round"/>
<polyline points="262.3,388.99 278.3,387.1 318.3,386.91 334.3,382.79 350.3,391.71" fill="none" stroke="#4f5b66" stroke-width="0.9" stroke-linejoin="round"/>
<polyline points="262.3,383.32 278.3,389.29 318.3,393.8 334.3,398.69 350.3,404.42" fill="none" stroke="#c8405e" stroke-width="0.9" stroke-linejoin="round"/>
<circle cx="262.3" cy="388.99" r="2.1" fill="#34414c"/>
<circle cx="278.3" cy="387.1" r="2.1" fill="#34414c"/>
<circle cx="318.3" cy="386.91" r="2.1" fill="#34414c"/>
<circle cx="334.3" cy="382.79" r="2.1" fill="#34414c"/>
<circle cx="350.3" cy="391.71" r="2.1" fill="#34414c"/>
<rect x="260.15" y="381.17" width="4.3" height="4.3" fill="#c3163f"/>
<rect x="276.15" y="387.14" width="4.3" height="4.3" fill="#c3163f"/>
<rect x="316.15" y="391.65" width="4.3" height="4.3" fill="#c3163f"/>
<rect x="332.15" y="396.54" width="4.3" height="4.3" fill="#c3163f"/>
<rect x="348.15" y="402.27" width="4.3" height="4.3" fill="#c3163f"/>
<rect x="276.15" y="387.14" width="4.3" height="4.3" fill="rgba(90,30,50,0.55)"/>
<text x="333.8" y="371.3" font-size="6.6" text-anchor="middle" font-weight="normal" fill="#231f20" stroke="#231f20" stroke-width="0.18" >0.005</text>
<text x="350.4" y="377.2" font-size="6.6" text-anchor="middle" font-weight="normal" fill="#231f20" stroke="#231f20" stroke-width="0.18" >0.032</text>
<line x1="267.65" y1="432.6" x2="280.35" y2="432.6" stroke="#7f9aa8" stroke-width="0.9"/>
<circle cx="274" cy="432.6" r="1.9" fill="#34414c"/>
<text x="283.6" y="434.96" font-size="7.4" text-anchor="start" font-weight="normal" fill="#231f20" stroke="#231f20" stroke-width="0.18" >Vehicle</text>
<line x1="267.65" y1="441.3" x2="280.35" y2="441.3" stroke="#d45a74" stroke-width="0.9"/>
<rect x="272.1" y="439.4" width="3.8" height="3.8" fill="#c3163f"/>
<text x="283.6" y="443.66" font-size="7.4" text-anchor="start" font-weight="normal" fill="#231f20" stroke="#231f20" stroke-width="0.18" >Niraparib 25 mg/kg</text>
<text transform="translate(237.9,395.45) rotate(-90) scale(0.775,1)" x="0" y="2.07" font-size="7.8" text-anchor="middle" font-weight="bold" fill="#231f20" stroke="#231f20" stroke-width="0.22">Hgb g/dL</text>
<text transform="translate(310.4,473.3) scale(0.66,1)" x="0" y="0" font-size="8.6" font-weight="bold" text-anchor="middle" fill="#231f20" stroke="#231f20" stroke-width="0.32">Day</text>
<line x1="411.7" y1="346.4" x2="411.7" y2="447.1" stroke="#2b2b2b" stroke-width="1.2"/>
<line x1="411.7" y1="447.1" x2="512" y2="447.1" stroke="#2b2b2b" stroke-width="1.2"/>
<line x1="408.5" y1="447.1" x2="411.7" y2="447.1" stroke="#2b2b2b" stroke-width="0.9"/>
<text x="405.4" y="449.58" font-size="8.0" text-anchor="end" font-weight="normal" fill="#231f20" stroke="#231f20" stroke-width="0.18" >0</text>
<line x1="408.5" y1="422.6" x2="411.7" y2="422.6" stroke="#2b2b2b" stroke-width="0.9"/>
<text x="405.4" y="425.08" font-size="8.0" text-anchor="end" font-weight="normal" fill="#231f20" stroke="#231f20" stroke-width="0.18" >5</text>
<line x1="408.5" y1="398.1" x2="411.7" y2="398.1" stroke="#2b2b2b" stroke-width="0.9"/>
<text x="405.4" y="400.58" font-size="8.0" text-anchor="end" font-weight="normal" fill="#231f20" stroke="#231f20" stroke-width="0.18" >10</text>
<line x1="408.5" y1="373.6" x2="411.7" y2="373.6" stroke="#2b2b2b" stroke-width="0.9"/>
<text x="405.4" y="376.08" font-size="8.0" text-anchor="end" font-weight="normal" fill="#231f20" stroke="#231f20" stroke-width="0.18" >15</text>
<line x1="408.5" y1="349.1" x2="411.7" y2="349.1" stroke="#2b2b2b" stroke-width="0.9"/>
<text x="405.4" y="351.58" font-size="8.0" text-anchor="end" font-weight="normal" fill="#231f20" stroke="#231f20" stroke-width="0.18" >20</text>
<line x1="411.7" y1="447.1" x2="411.7" y2="450.5" stroke="#2b2b2b" stroke-width="1.0"/>
<text x="411.7" y="459.8" font-size="8.0" text-anchor="middle" font-weight="normal" fill="#231f20" stroke="#231f20" stroke-width="0.18" >0</text>
<line x1="427.7" y1="447.1" x2="427.7" y2="450.5" stroke="#2b2b2b" stroke-width="1.0"/>
<text x="427.7" y="459.8" font-size="8.0" text-anchor="middle" font-weight="normal" fill="#231f20" stroke="#231f20" stroke-width="0.18" >2</text>
<line x1="443.7" y1="447.1" x2="443.7" y2="450.5" stroke="#2b2b2b" stroke-width="1.0"/>
<text x="443.7" y="459.8" font-size="8.0" text-anchor="middle" font-weight="normal" fill="#231f20" stroke="#231f20" stroke-width="0.18" >4</text>
<line x1="459.7" y1="447.1" x2="459.7" y2="450.5" stroke="#2b2b2b" stroke-width="1.0"/>
<text x="459.7" y="459.8" font-size="8.0" text-anchor="middle" font-weight="normal" fill="#231f20" stroke="#231f20" stroke-width="0.18" >6</text>
<line x1="475.7" y1="447.1" x2="475.7" y2="450.5" stroke="#2b2b2b" stroke-width="1.0"/>
<text x="475.7" y="459.8" font-size="8.0" text-anchor="middle" font-weight="normal" fill="#231f20" stroke="#231f20" stroke-width="0.18" >8</text>
<line x1="491.7" y1="447.1" x2="491.7" y2="450.5" stroke="#2b2b2b" stroke-width="1.0"/>
<text x="491.7" y="459.8" font-size="8.0" text-anchor="middle" font-weight="normal" fill="#231f20" stroke="#231f20" stroke-width="0.18" >10</text>
<line x1="507.7" y1="447.1" x2="507.7" y2="450.5" stroke="#2b2b2b" stroke-width="1.0"/>
<text x="507.7" y="459.8" font-size="8.0" text-anchor="middle" font-weight="normal" fill="#231f20" stroke="#231f20" stroke-width="0.18" >12</text>
<polygon points="411.7,378.01 427.7,372.13 467.7,390.75 483.7,381.2 499.7,395.5 499.7,411.82 483.7,407.9 467.7,400.06 427.7,404.96 411.7,398.69" fill="rgba(105,118,130,0.27)" stroke="none" stroke-width="0" stroke-linejoin="round"/>
<polyline points="411.7,378.01 427.7,372.13 467.7,390.75 483.7,381.2 499.7,395.5" fill="none" stroke="#6a747e" stroke-width="0.75" stroke-linejoin="round"/>
<polyline points="411.7,398.69 427.7,404.96 467.7,400.06 483.7,407.9 499.7,411.82" fill="none" stroke="#6a747e" stroke-width="0.75" stroke-linejoin="round"/>
<polygon points="411.7,408.39 427.7,394.28 467.7,391.24 483.7,404.96 499.7,410.35 499.7,420.3 483.7,418.19 467.7,408.63 427.7,416.72 411.7,410.84" fill="rgba(228,90,120,0.36)" stroke="none" stroke-width="0" stroke-linejoin="round"/>
<polyline points="411.7,408.39 427.7,394.28 467.7,391.24 483.7,404.96 499.7,410.35" fill="none" stroke="#c8405e" stroke-width="0.75" stroke-linejoin="round"/>
<polyline points="411.7,410.84 427.7,416.72 467.7,408.63 483.7,418.19 499.7,420.3" fill="none" stroke="#c8405e" stroke-width="0.75" stroke-linejoin="round"/>
<polyline points="411.7,389.18 427.7,388.59 467.7,395.99 483.7,395.31 499.7,404.42" fill="none" stroke="#4f5b66" stroke-width="0.9" stroke-linejoin="round"/>
<polyline points="411.7,409.71 427.7,405.5 467.7,399.81 483.7,411.82 499.7,415" fill="none" stroke="#c8405e" stroke-width="0.9" stroke-linejoin="round"/>
<circle cx="411.7" cy="389.18" r="2.1" fill="#34414c"/>
<circle cx="427.7" cy="388.59" r="2.1" fill="#34414c"/>
<circle cx="467.7" cy="395.99" r="2.1" fill="#34414c"/>
<circle cx="483.7" cy="395.31" r="2.1" fill="#34414c"/>
<circle cx="499.7" cy="404.42" r="2.1" fill="#34414c"/>
<rect x="409.55" y="407.56" width="4.3" height="4.3" fill="#c3163f"/>
<rect x="425.55" y="403.35" width="4.3" height="4.3" fill="#c3163f"/>
<rect x="465.55" y="397.67" width="4.3" height="4.3" fill="#c3163f"/>
<rect x="481.55" y="409.67" width="4.3" height="4.3" fill="#c3163f"/>
<rect x="497.55" y="412.86" width="4.3" height="4.3" fill="#c3163f"/>
<line x1="417.65" y1="433" x2="430.35" y2="433" stroke="#7f9aa8" stroke-width="0.9"/>
<circle cx="424" cy="433" r="1.9" fill="#34414c"/>
<text x="433.6" y="435.36" font-size="7.4" text-anchor="start" font-weight="normal" fill="#231f20" stroke="#231f20" stroke-width="0.18" >Vehicle</text>
<line x1="417.65" y1="441.3" x2="430.35" y2="441.3" stroke="#d45a74" stroke-width="0.9"/>
<rect x="422.1" y="439.4" width="3.8" height="3.8" fill="#c3163f"/>
<text x="433.6" y="443.66" font-size="7.4" text-anchor="start" font-weight="normal" fill="#231f20" stroke="#231f20" stroke-width="0.18" >Niraparib 25 mg/kg</text>
<text transform="translate(388.65,394.55) rotate(-90) scale(0.869,1)" x="0" y="2.07" font-size="7.8" text-anchor="middle" font-weight="bold" fill="#231f20" stroke="#231f20" stroke-width="0.22">WBC (10³/µL)</text>
<text transform="translate(460.2,472.8) scale(0.66,1)" x="0" y="0" font-size="8.6" font-weight="bold" text-anchor="middle" fill="#231f20" stroke="#231f20" stroke-width="0.32">Day</text>
<line x1="48.4" y1="367.6" x2="48.4" y2="447.2" stroke="#2b2b2b" stroke-width="1.1"/>
<line x1="48.4" y1="447.2" x2="104.2" y2="447.2" stroke="#2b2b2b" stroke-width="1.1"/>
<line x1="45.2" y1="447.2" x2="48.4" y2="447.2" stroke="#2b2b2b" stroke-width="0.9"/>
<text x="42.5" y="450.01" font-size="7.8" text-anchor="end" font-weight="normal" fill="#231f20" stroke="#231f20" stroke-width="0.18" >0</text>
<line x1="45.2" y1="431.28" x2="48.4" y2="431.28" stroke="#2b2b2b" stroke-width="0.9"/>
<text x="42.5" y="434.09" font-size="7.8" text-anchor="end" font-weight="normal" fill="#231f20" stroke="#231f20" stroke-width="0.18" >5</text>
<line x1="45.2" y1="415.36" x2="48.4" y2="415.36" stroke="#2b2b2b" stroke-width="0.9"/>
<text x="42.5" y="418.17" font-size="7.8" text-anchor="end" font-weight="normal" fill="#231f20" stroke="#231f20" stroke-width="0.18" >10</text>
<line x1="45.2" y1="399.44" x2="48.4" y2="399.44" stroke="#2b2b2b" stroke-width="0.9"/>
<text x="42.5" y="402.25" font-size="7.8" text-anchor="end" font-weight="normal" fill="#231f20" stroke="#231f20" stroke-width="0.18" >15</text>
<line x1="45.2" y1="383.52" x2="48.4" y2="383.52" stroke="#2b2b2b" stroke-width="0.9"/>
<text x="42.5" y="386.33" font-size="7.8" text-anchor="end" font-weight="normal" fill="#231f20" stroke="#231f20" stroke-width="0.18" >20</text>
<line x1="45.2" y1="367.6" x2="48.4" y2="367.6" stroke="#2b2b2b" stroke-width="0.9"/>
<text x="42.5" y="370.41" font-size="7.8" text-anchor="end" font-weight="normal" fill="#231f20" stroke="#231f20" stroke-width="0.18" >25</text>
<rect x="57.5" y="423.6" width="16.6" height="23.6" fill="#9ea9b3"/>
<rect x="76.6" y="399.2" width="16.0" height="48" fill="#e58a9c"/>
<line x1="65.5" y1="447.2" x2="65.5" y2="450.2" stroke="#2b2b2b" stroke-width="0.9"/>
<line x1="84.8" y1="447.2" x2="84.8" y2="450.2" stroke="#2b2b2b" stroke-width="0.9"/>
<rect x="57.6" y="421.8" width="5.2" height="6.5" fill="#3b4853"/>
<rect x="62.0" y="423.4" width="12.0" height="3.9" fill="#3b4853"/>
<rect x="62.5" y="425.5" width="3.6" height="2.6" fill="#4a5864"/>
<line x1="84.7" y1="399.2" x2="84.7" y2="384.48" stroke="#d84a6a" stroke-width="0.7"/>
<line x1="79.8" y1="384.48" x2="89.2" y2="384.48" stroke="#f2a9b8" stroke-width="1.0"/>
<rect x="82.4" y="378.5" width="4.6" height="4.6" fill="#c3163f"/>
<rect x="82.4" y="387.5" width="4.6" height="4.6" fill="#c3163f"/>
<rect x="82.4" y="395.1" width="4.6" height="4.6" fill="#c3163f"/>
<rect x="82.4" y="407.2" width="4.6" height="4.6" fill="#c3163f"/>
<rect x="82.4" y="411.7" width="4.6" height="4.6" fill="#c3163f"/>
<polyline points="65.6,416.8 65.6,368.5 84.7,368.5 84.7,374.1" fill="none" stroke="#333" stroke-width="0.8"/>
<text x="75.4" y="364.2" font-size="6.4" text-anchor="middle" font-weight="normal" fill="#231f20" stroke="#231f20" stroke-width="0.18" >0.003</text>
<text transform="translate(68.0,454.4) rotate(-45)" x="0" y="0" font-size="7.9" text-anchor="end" fill="#231f20" stroke="#231f20" stroke-width="0.18">Control</text>
<text transform="translate(88.0,455.4) rotate(-45)" x="0" y="0" font-size="7.9" text-anchor="end" fill="#231f20" stroke="#231f20" stroke-width="0.18">Niraparib</text>
<text transform="translate(25.15,404.75) rotate(-90) scale(0.72,1)" x="0" y="2.3" font-size="8.6" font-weight="bold" text-anchor="middle" fill="#231f20">TO<tspan font-size="4.6" dy="-3.2">high</tspan><tspan dy="3.2"> platelets[%]</tspan></text>
<line x1="155.5" y1="378.2" x2="155.5" y2="447.3" stroke="#2b2b2b" stroke-width="1.1"/>
<line x1="155.5" y1="447.3" x2="214.5" y2="447.3" stroke="#2b2b2b" stroke-width="1.1"/>
<line x1="152.3" y1="447.3" x2="155.5" y2="447.3" stroke="#2b2b2b" stroke-width="0.9"/>
<text x="149.4" y="450.11" font-size="7.8" text-anchor="end" font-weight="normal" fill="#231f20" stroke="#231f20" stroke-width="0.18" >0.00</text>
<line x1="152.3" y1="424.27" x2="155.5" y2="424.27" stroke="#2b2b2b" stroke-width="0.9"/>
<text x="149.4" y="427.07" font-size="7.8" text-anchor="end" font-weight="normal" fill="#231f20" stroke="#231f20" stroke-width="0.18" >0.05</text>
<line x1="152.3" y1="401.23" x2="155.5" y2="401.23" stroke="#2b2b2b" stroke-width="0.9"/>
<text x="149.4" y="404.04" font-size="7.8" text-anchor="end" font-weight="normal" fill="#231f20" stroke="#231f20" stroke-width="0.18" >0.10</text>
<line x1="152.3" y1="378.2" x2="155.5" y2="378.2" stroke="#2b2b2b" stroke-width="0.9"/>
<text x="149.4" y="381.01" font-size="7.8" text-anchor="end" font-weight="normal" fill="#231f20" stroke="#231f20" stroke-width="0.18" >0.15</text>
<rect x="163.1" y="407.8" width="13.8" height="39.5" fill="#9ea8b1"/>
<rect x="178.7" y="413.6" width="13.7" height="33.7" fill="#f0b4c0"/>
<rect x="194.2" y="414.0" width="13.6" height="33.3" fill="#dc5b78"/>
<line x1="169.6" y1="447.3" x2="169.6" y2="450.3" stroke="#2b2b2b" stroke-width="0.9"/>
<line x1="185.5" y1="447.3" x2="185.5" y2="450.3" stroke="#2b2b2b" stroke-width="0.9"/>
<line x1="200.9" y1="447.3" x2="200.9" y2="450.3" stroke="#2b2b2b" stroke-width="0.9"/>
<line x1="169.6" y1="407.8" x2="169.6" y2="400.0" stroke="#222" stroke-width="0.8"/>
<line x1="166.29999999999998" y1="400.0" x2="172.9" y2="400.0" stroke="#222" stroke-width="0.8"/>
<line x1="185.5" y1="413.6" x2="185.5" y2="407.3" stroke="#222" stroke-width="0.8"/>
<line x1="182.2" y1="407.3" x2="188.8" y2="407.3" stroke="#222" stroke-width="0.8"/>
<line x1="200.9" y1="414.0" x2="200.9" y2="407.3" stroke="#222" stroke-width="0.8"/>
<line x1="197.6" y1="407.3" x2="204.20000000000002" y2="407.3" stroke="#222" stroke-width="0.8"/>
<circle cx="169.3" cy="397.3" r="1.5" fill="#111"/>
<circle cx="167.8" cy="407.8" r="1.5" fill="#111"/>
<circle cx="173.6" cy="408.2" r="1.5" fill="#111"/>
<circle cx="166.4" cy="413.6" r="1.5" fill="#111"/>
<circle cx="172.2" cy="413.6" r="1.5" fill="#111"/>
<circle cx="184.9" cy="404.2" r="1.5" fill="#111"/>
<circle cx="186.4" cy="409.6" r="1.5" fill="#111"/>
<circle cx="181.8" cy="415.5" r="1.5" fill="#111"/>
<circle cx="187.3" cy="417.6" r="1.5" fill="#111"/>
<circle cx="185.5" cy="420.9" r="1.5" fill="#111"/>
<circle cx="200.5" cy="404.2" r="1.5" fill="#111"/>
<circle cx="203.1" cy="412.7" r="1.5" fill="#111"/>
<circle cx="197.6" cy="414.5" r="1.5" fill="#111"/>
<circle cx="203.6" cy="416.4" r="1.5" fill="#111"/>
<circle cx="200.5" cy="421.8" r="1.5" fill="#111"/>
<line x1="169.1" y1="390.4" x2="201.8" y2="390.4" stroke="#222" stroke-width="0.9"/>
<text x="185.3" y="386.3" font-size="6.6" text-anchor="middle" font-weight="normal" fill="#231f20" stroke="#231f20" stroke-width="0.18" >ns</text>
<text transform="translate(172.6,455.6) rotate(-45)" x="0" y="0" font-size="7.9" text-anchor="end" fill="#231f20" stroke="#231f20" stroke-width="0.18">Vehicle</text>
<text transform="translate(187.3,455.6) rotate(-45)" x="0" y="0" font-size="7.9" text-anchor="end" fill="#231f20" stroke="#231f20" stroke-width="0.18">3 days</text>
<text transform="translate(202.9,455.6) rotate(-45)" x="0" y="0" font-size="7.9" text-anchor="end" fill="#231f20" stroke="#231f20" stroke-width="0.18">11 days</text>
<line x1="173.7" y1="476.3" x2="205.7" y2="476.3" stroke="#333" stroke-width="0.8"/>
<text x="189.8" y="486.6" font-size="7.7" text-anchor="middle" font-weight="normal" fill="#231f20" stroke="#231f20" stroke-width="0.18" >Niraparib</text>
<text transform="translate(124.7,410.4) rotate(-90) scale(0.791,1)" x="0" y="2.07" font-size="7.8" text-anchor="middle" font-weight="bold" fill="#231f20" stroke="#231f20" stroke-width="0.22">Splenic weight (grams)</text>
<g fill="#736359" stroke="#4f423b" stroke-width="0.45" stroke-linejoin="round"><path d="M82.6,39.2 L75.2,35.2 L74.4,35.8 L75.0,36.6 L81.4,43.0 Z"/><path d="M92.2,39.2 L99.6,35.2 L100.4,35.8 L99.8,36.6 L93.4,43.0 Z"/><path d="M79.8,59.8 L80.4,65.2 L81.6,65.0 L82.2,61.2 Z"/><path d="M95.0,59.8 L94.4,65.2 L93.2,65.0 L92.6,61.2 Z"/><path d="M87.4,27.2 C88.4,27.2 89,28.3 89.2,30.2 L91.8,32.0 L93.7,34.0 L92.3,37.0 L92.3,38.5 C93.5,41 94,45 94.2,49 C95.8,51 96.8,53.5 96.6,56.5 C96.4,59 95.3,61 94,61.5 L87.3,64.8 L80.6,61.5 C79.3,61 78.2,59 78.1,56.5 C78,53.5 79,51 80.6,49 C80.8,45 81.3,41 82.5,38.5 L82.5,37.0 L81.0,34.0 L82.9,32.0 L85.6,30.2 C85.8,28.3 86.4,27.2 87.4,27.2 Z"/></g>
<path d="M81.2,64.6 Q77.5,65.0 74.4,67.0 L74.8,67.7 Q78,66.3 81.4,65.9 Z" fill="#c2a0a3"/>
<path d="M93.6,64.6 Q97.3,65.0 100.4,67.0 L100.0,67.7 Q96.8,66.3 93.4,65.9 Z" fill="#c2a0a3"/>
<line x1="87.3" y1="64.5" x2="87.2" y2="71.2" stroke="#5e5049" stroke-width="0.7"/>
<path d="M82.3,64.0 L84.3,64.4 L81.7,74.6 L79.6,74.2 Z" fill="#cfdbe2"/>
<rect x="52.9" y="79.4" width="67.1" height="10.2" fill="#e08a9b" stroke="#c07080" stroke-width="0.4"/>
<text x="87.3" y="86.7" font-size="6.4" text-anchor="middle" font-weight="normal" fill="#5e1828" stroke="#5e1828" stroke-width="0.06" >Niraparib</text>
<rect x="52.9" y="112.0" width="67.1" height="9.6" fill="#e08a9b" stroke="#c07080" stroke-width="0.4"/>
<text x="87.3" y="119.3" font-size="6.4" text-anchor="middle" font-weight="normal" fill="#5e1828" stroke="#5e1828" stroke-width="0.06" >Niraparib</text>
<line x1="55.05" y1="90.8" x2="55.05" y2="93.8" stroke="#666" stroke-width="0.45"/>
<path d="M53.75,93.2 L56.349999999999994,93.2 L55.05,95.8 Z" fill="#2a2a2a"/>
<line x1="70.9" y1="90.8" x2="70.9" y2="93.8" stroke="#666" stroke-width="0.45"/>
<path d="M69.60000000000001,93.2 L72.2,93.2 L70.9,95.8 Z" fill="#2a2a2a"/>
<line x1="86.5" y1="90.8" x2="86.5" y2="93.8" stroke="#666" stroke-width="0.45"/>
<path d="M85.2,93.2 L87.8,93.2 L86.5,95.8 Z" fill="#2a2a2a"/>
<line x1="102.0" y1="90.8" x2="102.0" y2="93.8" stroke="#666" stroke-width="0.45"/>
<path d="M100.7,93.2 L103.3,93.2 L102.0,95.8 Z" fill="#2a2a2a"/>
<line x1="117.4" y1="90.8" x2="117.4" y2="93.8" stroke="#666" stroke-width="0.45"/>
<path d="M116.10000000000001,93.2 L118.7,93.2 L117.4,95.8 Z" fill="#2a2a2a"/>
<line x1="55.05" y1="122.8" x2="55.05" y2="125.8" stroke="#666" stroke-width="0.45"/>
<path d="M53.75,125.2 L56.349999999999994,125.2 L55.05,127.8 Z" fill="#2a2a2a"/>
<line x1="70.9" y1="122.8" x2="70.9" y2="125.8" stroke="#666" stroke-width="0.45"/>
<path d="M69.60000000000001,125.2 L72.2,125.2 L70.9,127.8 Z" fill="#2a2a2a"/>
<line x1="86.5" y1="122.8" x2="86.5" y2="125.8" stroke="#666" stroke-width="0.45"/>
<path d="M85.2,125.2 L87.8,125.2 L86.5,127.8 Z" fill="#2a2a2a"/>
<line x1="102.0" y1="122.8" x2="102.0" y2="125.8" stroke="#666" stroke-width="0.45"/>
<path d="M100.7,125.2 L103.3,125.2 L102.0,127.8 Z" fill="#2a2a2a"/>
<line x1="55" y1="100.5" x2="117.4" y2="100.5" stroke="#7d7d7d" stroke-width="0.9"/>
<circle cx="55.05" cy="100.5" r="3.3" fill="#111" stroke="#111" stroke-width="0.6"/>
<text x="55.05" y="101.7" font-size="3.2" text-anchor="middle" font-weight="normal" fill="#fff" stroke="#fff" stroke-width="0.18" >0</text>
<circle cx="70.9" cy="100.5" r="3.3" fill="#fff" stroke="#9a9a9a" stroke-width="0.6"/>
<text x="70.9" y="101.7" font-size="3.2" text-anchor="middle" font-weight="normal" fill="#888" stroke="#888" stroke-width="0.18" >1</text>
<circle cx="86.5" cy="100.5" r="3.3" fill="#111" stroke="#111" stroke-width="0.6"/>
<text x="86.5" y="101.7" font-size="3.2" text-anchor="middle" font-weight="normal" fill="#fff" stroke="#fff" stroke-width="0.18" >2</text>
<circle cx="102.0" cy="100.5" r="3.3" fill="#fff" stroke="#9a9a9a" stroke-width="0.6"/>
<text x="102" y="101.7" font-size="3.2" text-anchor="middle" font-weight="normal" fill="#888" stroke="#888" stroke-width="0.18" >3</text>
<circle cx="117.4" cy="100.5" r="3.3" fill="#fff" stroke="#9a9a9a" stroke-width="0.6"/>
<text x="117.4" y="101.7" font-size="3.2" text-anchor="middle" font-weight="normal" fill="#888" stroke="#888" stroke-width="0.18" >4</text>
<line x1="55" y1="132.8" x2="117.4" y2="132.8" stroke="#7d7d7d" stroke-width="0.9"/>
<circle cx="55.05" cy="132.8" r="3.3" fill="#111" stroke="#111" stroke-width="0.6"/>
<text x="55.05" y="134" font-size="3.2" text-anchor="middle" font-weight="normal" fill="#fff" stroke="#fff" stroke-width="0.18" >7</text>
<circle cx="70.9" cy="132.8" r="3.3" fill="#fff" stroke="#9a9a9a" stroke-width="0.6"/>
<text x="70.9" y="134" font-size="3.2" text-anchor="middle" font-weight="normal" fill="#888" stroke="#888" stroke-width="0.18" >8</text>
<circle cx="86.5" cy="132.8" r="3.3" fill="#111" stroke="#111" stroke-width="0.6"/>
<text x="86.5" y="134" font-size="3.2" text-anchor="middle" font-weight="normal" fill="#fff" stroke="#fff" stroke-width="0.18" >9</text>
<circle cx="102.0" cy="132.8" r="3.3" fill="#fff" stroke="#9a9a9a" stroke-width="0.6"/>
<text x="102" y="134" font-size="3.2" text-anchor="middle" font-weight="normal" fill="#888" stroke="#888" stroke-width="0.18" >10</text>
<circle cx="117.4" cy="132.8" r="3.3" fill="#bd1a40" stroke="#bd1a40" stroke-width="0.6"/>
<text x="117.4" y="134" font-size="3.2" text-anchor="middle" font-weight="normal" fill="#f3c6d0" stroke="#f3c6d0" stroke-width="0.18" >11</text>
<text x="27.6" y="102.3" font-size="6.7" text-anchor="start" font-weight="normal" fill="#333" stroke="#333" stroke-width="0.05" >Week 1</text>
<text x="27.6" y="134.6" font-size="6.7" text-anchor="start" font-weight="normal" fill="#333" stroke="#333" stroke-width="0.05" >Week 2</text>
<circle cx="64.1" cy="145.9" r="3.75" fill="#111"/>
<circle cx="64.1" cy="154.7" r="3.75" fill="#b81a3e"/>
<text x="70.2" y="148.3" font-size="6.4" text-anchor="start" font-weight="normal" fill="#333" stroke="#333" stroke-width="0.05" >Complete Blood Count</text>
<text x="70.2" y="157.1" font-size="6.4" text-anchor="start" font-weight="normal" fill="#333" stroke="#333" stroke-width="0.05" >Sacrifice</text>
<rect x="0" y="0" width="520" height="1" fill="#5a5a5a"/>
<rect x="0" y="494" width="520" height="1" fill="#454545"/>
<rect x="0" y="0" width="1" height="495" fill="#3c3c3c"/>
<rect x="1" y="0" width="0.4" height="495" fill="#888"/>
<rect x="519" y="0" width="1" height="495" fill="#262626"/>
<rect x="518.5" y="0" width="0.5" height="495" fill="#999"/>
</svg></body></html>
